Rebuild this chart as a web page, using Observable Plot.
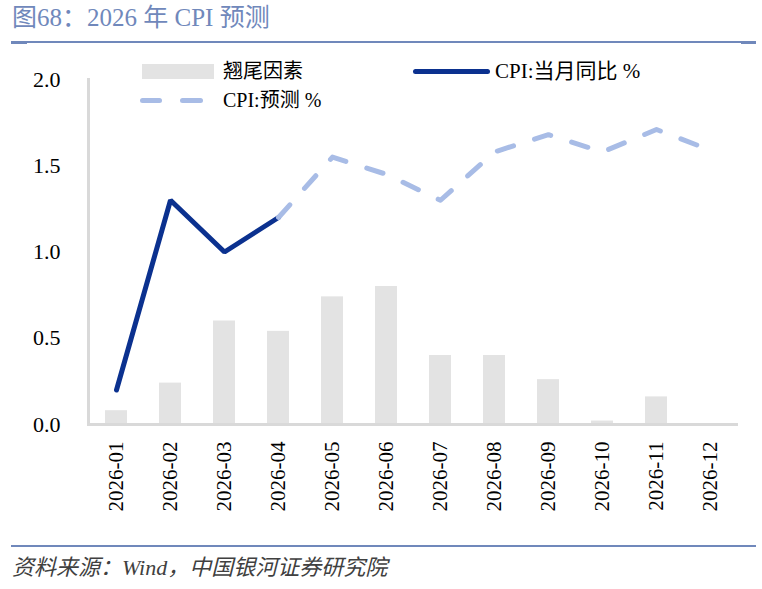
<!DOCTYPE html>
<html>
<head>
<meta charset="utf-8">
<script src="https://cdn.jsdelivr.net/npm/d3@7"></script>
<script src="https://cdn.jsdelivr.net/npm/@observablehq/plot@0.6"></script>
<style>
  html, body { margin: 0; padding: 0; background: #fff; }
  body { width: 762px; height: 589px; position: relative; overflow: hidden;
         font-family: "Liberation Serif", "Noto Sans CJK SC", serif; }
  .abs { position: absolute; }
  #title { left: 12px; top: 5px; font-size: 25px; line-height: 1; color: #7088bb; white-space: nowrap; }
  .rule { background: #7088bb; }
  #source { left: 12px; top: 557px; font-size: 22px; line-height: 1; color: #404040; font-style: italic; white-space: nowrap; }
  .legend-text { font-size: 20px; line-height: 1; color: #000; white-space: nowrap; }
  .swatch-bar { background: #e3e3e3; }
  .swatch-line { background: #0b318f; border-radius: 3px; }
  .swatch-dash { background: #a8bce6; border-radius: 3px; }
</style>
</head>
<body>
<div id="title" class="abs">图68：2026 年 CPI 预测</div>
<div class="abs rule" style="left:11px; top:41px; width:745px; height:2px;"></div>
<div class="abs rule" style="left:11px; top:41px; width:16px; height:3px;"></div>
<div class="abs rule" style="left:741px; top:41px; width:15px; height:3px;"></div>

<div id="chart" class="abs" style="left:0; top:50px;"></div>

<!-- legend -->
<div class="abs swatch-bar" style="left:142px; top:64px; width:72px; height:15px;"></div>
<div class="abs legend-text" id="lg-bar" style="left:223px; top:61px;"></div>
<div class="abs swatch-line" style="left:413px; top:69px; width:77px; height:5px;"></div>
<div class="abs legend-text" id="lg-line" style="left:495px; top:61px; font-size:21px;"></div>
<div class="abs swatch-dash" style="left:140px; top:98px; width:22px; height:5px;"></div>
<div class="abs swatch-dash" style="left:180px; top:98px; width:23px; height:5px;"></div>
<div class="abs legend-text" id="lg-dash" style="left:223px; top:90px;"></div>

<div class="abs rule" style="left:11px; top:545px; width:745px; height:2px;"></div>
<div id="source" class="abs">资料来源：Wind，中国银河证券研究院</div>

<script>
// Months on the category axis
const months = ["2026-01", "2026-02", "2026-03", "2026-04", "2026-05", "2026-06",
                "2026-07", "2026-08", "2026-09", "2026-10", "2026-11", "2026-12"];

// 翘尾因素 (carry-over effect), one value per month
const carryover = [0.08, 0.24, 0.60, 0.54, 0.74, 0.80, 0.40, 0.40, 0.26, 0.02, 0.16, 0];

// CPI 当月同比 (actual), Jan–Apr
const actualMonths = ["2026-01", "2026-02", "2026-03", "2026-04"];
const cpiActual = [0.2, 1.3, 1.0, 1.2];

// CPI 预测 (forecast), Apr–Dec
const forecastMonths = ["2026-04", "2026-05", "2026-06", "2026-07", "2026-08",
                        "2026-09", "2026-10", "2026-11", "2026-12"];
const cpiForecast = [1.2, 1.55, 1.45, 1.3, 1.58, 1.68, 1.58, 1.71, 1.59];

// Series names and y ticks
const seriesNames = ["翘尾因素", "CPI:当月同比 %", "CPI:预测 %"];
const yTicks = [0, 0.5, 1.0, 1.5, 2.0];

document.getElementById("lg-bar").textContent = seriesNames[0];
document.getElementById("lg-line").textContent = seriesNames[1];
document.getElementById("lg-dash").textContent = seriesNames[2];

const barData = months.map((m, i) => ({month: m, value: carryover[i]}));
const actualData = actualMonths.map((m, i) => ({month: m, value: cpiActual[i]}));
const forecastData = forecastMonths.map((m, i) => ({month: m, value: cpiForecast[i]}));

const chart = Plot.plot({
  width: 762,
  height: 480,
  marginTop: 29,
  marginBottom: 106,
  marginLeft: 88,
  marginRight: 24,
  style: {
    fontFamily: "'Liberation Serif', 'Noto Sans CJK SC', serif",
    fontSize: "21px",
    color: "#000",
    background: "transparent",
    overflow: "visible"
  },
  x: {domain: months, paddingInner: 0.6, paddingOuter: 0.3, label: null},
  y: {domain: [0, 2], label: null},
  marks: [
    Plot.barY(barData, {x: "month", y: "value", fill: "#e3e3e3"}),
    Plot.ruleY([0], {stroke: "#d9d9d9", strokeWidth: 3}),
    Plot.frame({anchor: "left", stroke: "#d9d9d9", strokeWidth: 3}),
    Plot.axisX({tickSize: 0, tickPadding: 17, tickRotate: -90, fontSize: 21, label: null}),
    Plot.axisY({ticks: yTicks, tickFormat: d3.format(".1f"), tickSize: 0, tickPadding: 28, fontSize: 22, label: null}),
    Plot.lineY(actualData, {x: "month", y: "value", stroke: "#0b318f", strokeWidth: 5,
                            strokeLinejoin: "miter", strokeLinecap: "round"}),
    Plot.lineY(forecastData, {x: "month", y: "value", stroke: "#a8bce6", strokeWidth: 5,
                              strokeDasharray: "17 22", strokeLinecap: "round"})
  ]
});

document.getElementById("chart").appendChild(chart);
</script>
</body>
</html>
